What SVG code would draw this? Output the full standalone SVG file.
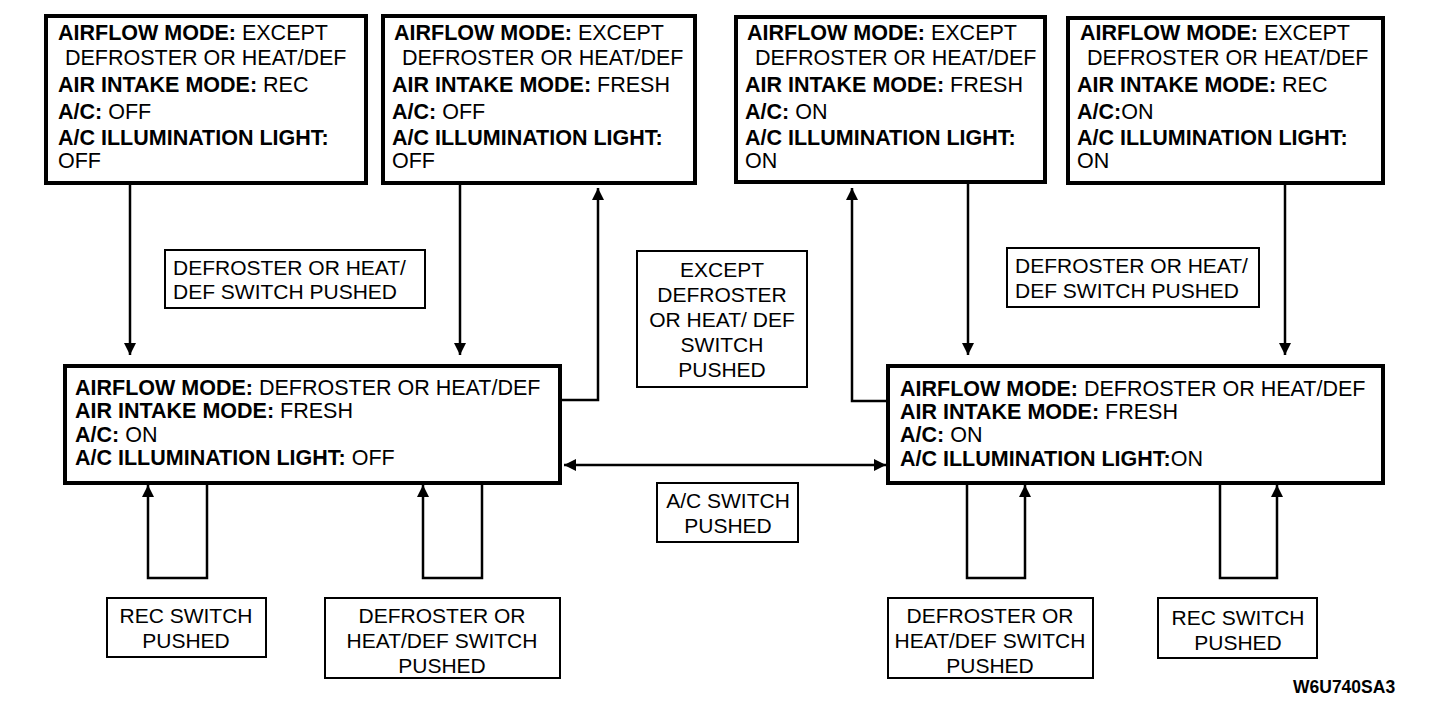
<svg xmlns="http://www.w3.org/2000/svg" width="1440" height="710" viewBox="0 0 1440 710">
<style>
.state{fill:#fff;stroke:#000;stroke-width:4}
.lbl{fill:#fff;stroke:#000;stroke-width:2}
text{font-family:"Liberation Sans",Arial,sans-serif;fill:#000}
.s{font-size:21.5px}
.l{font-size:21px;text-anchor:middle}
.ll{font-size:21px}
.b{font-weight:bold}
.conn{fill:none;stroke:#000;stroke-width:2.5}
</style>
<defs>
<marker id="arr" viewBox="0 0 10 10" refX="10" refY="5" markerUnits="userSpaceOnUse" markerWidth="12" markerHeight="12" orient="auto-start-reverse">
<path d="M0,0 L10,5 L0,10 z" fill="#000"/>
</marker>
</defs>
<rect width="1440" height="710" fill="#fff"/>

<g id="connectors">
<path class="conn" d="M130,183 V355" marker-end="url(#arr)"/>
<path class="conn" d="M460,183 V355" marker-end="url(#arr)"/>
<path class="conn" d="M968,182 V355" marker-end="url(#arr)"/>
<path class="conn" d="M1285,183 V355" marker-end="url(#arr)"/>
<path class="conn" d="M562,400 H598 V188" marker-end="url(#arr)"/>
<path class="conn" d="M886,401 H852 V188" marker-end="url(#arr)"/>
<path class="conn" d="M564,465 H886" marker-start="url(#arr)" marker-end="url(#arr)"/>
<path class="conn" d="M207,485 V578 H148 V485" marker-end="url(#arr)"/>
<path class="conn" d="M482,485 V578 H423 V485" marker-end="url(#arr)"/>
<path class="conn" d="M967,485 V578 H1025 V485" marker-end="url(#arr)"/>
<path class="conn" d="M1220,485 V578 H1277 V485" marker-end="url(#arr)"/>
</g>

<g id="state1">
<rect class="state" x="46" y="16" width="320" height="167"/>
<text class="s" x="58" y="40"><tspan class="b">AIRFLOW MODE:</tspan> EXCEPT</text>
<text class="s" x="65" y="65">DEFROSTER OR HEAT/DEF</text>
<text class="s" x="58" y="92"><tspan class="b">AIR INTAKE MODE:</tspan> REC</text>
<text class="s" x="58" y="119"><tspan class="b">A/C:</tspan> OFF</text>
<text class="s b" x="58" y="145">A/C ILLUMINATION LIGHT:</text>
<text class="s" x="58" y="168">OFF</text>
</g>

<g id="state2">
<rect class="state" x="383" y="16" width="312" height="167"/>
<text class="s" x="394" y="40"><tspan class="b">AIRFLOW MODE:</tspan> EXCEPT</text>
<text class="s" x="402" y="65">DEFROSTER OR HEAT/DEF</text>
<text class="s" x="392" y="92"><tspan class="b">AIR INTAKE MODE:</tspan> FRESH</text>
<text class="s" x="392" y="119"><tspan class="b">A/C:</tspan> OFF</text>
<text class="s b" x="392" y="145">A/C ILLUMINATION LIGHT:</text>
<text class="s" x="392" y="168">OFF</text>
</g>

<g id="state3">
<rect class="state" x="736" y="17" width="309" height="165"/>
<text class="s" x="747" y="40"><tspan class="b">AIRFLOW MODE:</tspan> EXCEPT</text>
<text class="s" x="755" y="65">DEFROSTER OR HEAT/DEF</text>
<text class="s" x="745" y="92"><tspan class="b">AIR INTAKE MODE:</tspan> FRESH</text>
<text class="s" x="745" y="119"><tspan class="b">A/C:</tspan> ON</text>
<text class="s b" x="745" y="145">A/C ILLUMINATION LIGHT:</text>
<text class="s" x="745" y="168">ON</text>
</g>

<g id="state4">
<rect class="state" x="1068" y="18" width="315" height="165"/>
<text class="s" x="1080" y="40"><tspan class="b">AIRFLOW MODE:</tspan> EXCEPT</text>
<text class="s" x="1087" y="65">DEFROSTER OR HEAT/DEF</text>
<text class="s" x="1077" y="92"><tspan class="b">AIR INTAKE MODE:</tspan> REC</text>
<text class="s" x="1077" y="119"><tspan class="b">A/C:</tspan>ON</text>
<text class="s b" x="1077" y="145">A/C ILLUMINATION LIGHT:</text>
<text class="s" x="1077" y="168">ON</text>
</g>

<g id="state5">
<rect class="state" x="65" y="366" width="495" height="117"/>
<text class="s" x="75" y="395"><tspan class="b">AIRFLOW MODE:</tspan> DEFROSTER OR HEAT/DEF</text>
<text class="s" x="75" y="418"><tspan class="b">AIR INTAKE MODE:</tspan> FRESH</text>
<text class="s" x="75" y="442"><tspan class="b">A/C:</tspan> ON</text>
<text class="s" x="75" y="465"><tspan class="b">A/C ILLUMINATION LIGHT:</tspan> OFF</text>
</g>

<g id="state6">
<rect class="state" x="888" y="366" width="495" height="117"/>
<text class="s" x="900" y="396"><tspan class="b">AIRFLOW MODE:</tspan> DEFROSTER OR HEAT/DEF</text>
<text class="s" x="900" y="419"><tspan class="b">AIR INTAKE MODE:</tspan> FRESH</text>
<text class="s" x="900" y="442"><tspan class="b">A/C:</tspan> ON</text>
<text class="s" x="900" y="466"><tspan class="b">A/C ILLUMINATION LIGHT:</tspan>ON</text>
</g>

<g id="label-def-left">
<rect class="lbl" x="165" y="250" width="260" height="58"/>
<text class="ll" x="173" y="275">DEFROSTER OR HEAT/</text>
<text class="ll" x="173" y="299">DEF SWITCH PUSHED</text>
</g>

<g id="label-except">
<rect class="lbl" x="637" y="251" width="170" height="136"/>
<text class="l" x="722" y="277">EXCEPT</text>
<text class="l" x="722" y="302">DEFROSTER</text>
<text class="l" x="722" y="327">OR HEAT/ DEF</text>
<text class="l" x="722" y="352">SWITCH</text>
<text class="l" x="722" y="377">PUSHED</text>
</g>

<g id="label-def-right">
<rect class="lbl" x="1007" y="248" width="252" height="59"/>
<text class="ll" x="1015" y="273">DEFROSTER OR HEAT/</text>
<text class="ll" x="1015" y="298">DEF SWITCH PUSHED</text>
</g>

<g id="label-ac">
<rect class="lbl" x="657" y="483" width="141" height="59"/>
<text class="l" x="728" y="508">A/C SWITCH</text>
<text class="l" x="728" y="533">PUSHED</text>
</g>

<g id="label-rec-left">
<rect class="lbl" x="107" y="598" width="159" height="59"/>
<text class="l" x="186" y="623">REC SWITCH</text>
<text class="l" x="186" y="648">PUSHED</text>
</g>

<g id="label-defsw-left">
<rect class="lbl" x="325" y="598" width="235" height="80"/>
<text class="l" x="442" y="623">DEFROSTER OR</text>
<text class="l" x="442" y="648">HEAT/DEF SWITCH</text>
<text class="l" x="442" y="673">PUSHED</text>
</g>

<g id="label-defsw-right">
<rect class="lbl" x="888" y="598" width="205" height="80"/>
<text class="l" x="990" y="623">DEFROSTER OR</text>
<text class="l" x="990" y="648">HEAT/DEF SWITCH</text>
<text class="l" x="990" y="673">PUSHED</text>
</g>

<g id="label-rec-right">
<rect class="lbl" x="1158" y="598" width="159" height="60"/>
<text class="l" x="1238" y="625">REC SWITCH</text>
<text class="l" x="1238" y="650">PUSHED</text>
</g>

<text class="b" x="1293" y="693" style="font-size:17.5px">W6U740SA3</text>
</svg>
